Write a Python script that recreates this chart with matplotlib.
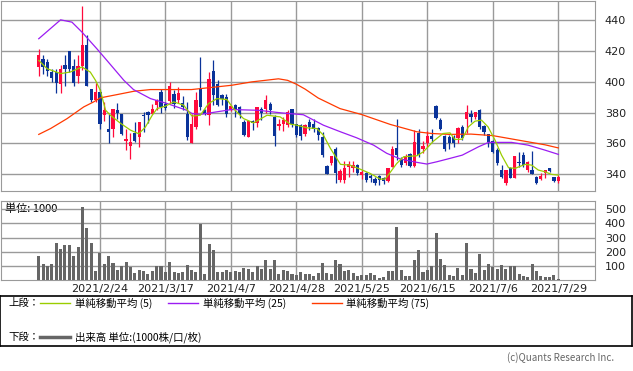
import numpy as np
import matplotlib
matplotlib.use("Agg")
import matplotlib.pyplot as plt
from matplotlib.lines import Line2D
from matplotlib.patches import Rectangle

# --- data (daily candles, 2021/2/2 .. 2021/7/29) ---
opens = [409.7, 415.1, 412.7, 406.5, 406.5, 398.9, 410.8, 419.9, 410.1, 403.6,
         410.1, 423.8, 395.6, 388.0, 393.2, 378.3, 369.4, 369.6, 382.0, 379.0,
         361.6, 358.4, 366.8, 364.2, 378.3, 380.5, 379.4, 384.8, 393.5, 385.9,
         387.4, 392.4, 388.0, 386.3, 379.4, 359.9, 370.7, 395.6, 382.0, 378.3,
         406.9, 398.9, 391.3, 390.2, 382.0, 384.8, 383.7, 374.0, 364.2, 374.4,
         373.3, 382.6, 382.6, 385.9, 377.2, 371.2, 372.9, 371.8, 382.6, 372.3,
         371.8, 365.8, 374.0, 372.9, 370.1, 364.2, 345.2, 346.9, 356.0, 336.0,
         336.1, 344.8, 343.7, 345.8, 339.3, 340.4, 338.9, 336.7, 338.7, 337.2,
         335.7, 344.8, 357.1, 349.7, 346.9, 352.8, 345.4, 366.4, 356.6, 359.9,
         364.9, 384.4, 375.1, 364.9, 364.2, 364.2, 363.2, 370.7, 376.1, 379.0,
         377.2, 381.6, 371.4, 365.8, 361.4, 355.6, 342.6, 333.9, 344.1, 337.6,
         348.0, 352.3, 342.6, 342.6, 338.3, 336.5, 340.4, 343.7, 338.3, 335.5]
highs = [421.6, 417.7, 415.1, 408.6, 408.6, 410.8, 417.3, 419.9, 415.1, 417.3,
         449.1, 430.3, 395.6, 399.3, 395.6, 387.0, 379.4, 382.6, 386.3, 379.0,
         369.0, 366.4, 374.0, 374.0, 380.5, 381.0, 385.9, 388.7, 395.6, 387.0,
         400.0, 395.0, 396.7, 390.6, 387.0, 379.4, 393.4, 416.2, 382.6, 406.4,
         414.0, 401.0, 392.4, 392.4, 385.2, 385.9, 384.1, 375.1, 375.0, 375.5,
         383.7, 383.7, 391.5, 387.0, 378.3, 376.1, 377.2, 381.5, 382.6, 372.9,
         372.3, 372.5, 376.1, 376.1, 370.7, 367.5, 345.8, 351.7, 357.7, 343.0,
         348.4, 348.4, 348.4, 346.3, 342.6, 341.5, 339.8, 338.3, 339.3, 338.3,
         343.7, 358.2, 375.7, 351.3, 352.8, 353.4, 368.6, 369.6, 361.4, 367.9,
         369.6, 384.8, 376.6, 365.3, 365.3, 365.3, 370.7, 371.8, 384.8, 381.6,
         380.5, 382.2, 371.8, 365.8, 362.1, 356.7, 345.8, 342.6, 344.8, 351.7,
         354.5, 354.5, 348.4, 354.9, 338.9, 340.4, 342.6, 344.1, 338.3, 339.3]
lows = [403.6, 404.9, 403.6, 400.0, 392.8, 392.8, 397.1, 406.5, 397.1, 399.3,
        407.5, 397.1, 387.0, 387.0, 369.0, 374.6, 360.3, 363.8, 376.1, 365.3,
        355.6, 349.5, 361.0, 357.7, 367.5, 373.3, 379.4, 382.0, 379.8, 382.0,
        385.9, 383.3, 386.0, 381.5, 362.0, 359.9, 369.6, 381.5, 378.3, 371.8,
        384.8, 384.0, 384.8, 377.2, 381.1, 377.2, 376.8, 364.7, 364.0, 368.6,
        370.7, 375.1, 379.8, 379.4, 358.2, 368.6, 368.1, 370.7, 370.7, 364.2,
        362.1, 364.5, 368.6, 367.5, 362.1, 351.3, 339.8, 345.8, 334.4, 335.0,
        333.9, 338.3, 341.1, 339.3, 336.5, 335.0, 335.0, 332.8, 332.8, 333.5,
        335.0, 344.8, 349.1, 344.8, 345.8, 344.8, 344.8, 351.3, 353.4, 357.7,
        361.0, 376.1, 368.6, 354.9, 356.6, 357.7, 359.9, 362.1, 366.4, 374.0,
        376.1, 369.6, 365.3, 357.7, 353.4, 345.8, 337.6, 332.8, 337.6, 337.2,
        344.8, 344.8, 341.1, 339.8, 333.5, 336.1, 337.6, 341.5, 334.6, 333.9]
closes = [417.3, 409.7, 407.1, 402.8, 399.3, 408.6, 408.2, 408.2, 399.3, 410.1,
          423.8, 397.1, 388.0, 393.2, 372.5, 382.0, 367.5, 382.6, 379.8, 366.0,
          362.5, 361.0, 361.6, 374.0, 377.7, 378.3, 382.6, 388.5, 383.7, 383.3,
          397.1, 385.9, 392.8, 383.7, 364.2, 372.9, 388.0, 383.7, 379.0, 401.7,
          391.3, 385.2, 389.1, 379.4, 384.6, 381.5, 379.4, 365.3, 374.4, 373.3,
          383.7, 379.8, 388.0, 382.0, 364.7, 372.9, 375.1, 380.5, 372.3, 365.3,
          364.9, 371.8, 370.7, 369.6, 365.3, 352.3, 339.8, 351.7, 340.4, 342.2,
          343.7, 346.3, 345.8, 340.4, 341.1, 336.1, 337.2, 334.4, 336.1, 335.7,
          343.7, 356.2, 352.3, 345.8, 351.9, 345.4, 361.0, 352.3, 358.4, 364.7,
          362.5, 376.6, 369.0, 356.2, 359.9, 359.9, 369.7, 363.2, 380.5, 377.2,
          380.5, 370.7, 367.5, 360.6, 354.5, 346.9, 338.3, 342.6, 337.6, 351.7,
          346.9, 345.8, 348.0, 339.8, 334.4, 338.9, 342.4, 341.9, 335.7, 337.8]
volumes = [170, 113, 99, 113, 260, 218, 246, 246, 169, 232,
           514, 366, 260, 63, 190, 113, 169, 120, 70, 99,
           127, 92, 49, 70, 63, 42, 63, 99, 99, 56,
           127, 56, 49, 56, 106, 70, 56, 394, 42, 254,
           211, 56, 56, 70, 56, 63, 56, 85, 77, 56,
           99, 77, 141, 77, 141, 42, 70, 63, 42, 35,
           56, 42, 42, 28, 49, 120, 49, 42, 141, 113,
           63, 70, 49, 28, 35, 35, 49, 35, 14, 21,
           63, 63, 373, 70, 28, 28, 141, 211, 56, 70,
           99, 331, 148, 106, 35, 28, 85, 35, 260, 77,
           49, 183, 70, 113, 92, 77, 106, 77, 99, 99,
           42, 28, 21, 113, 63, 28, 21, 21, 35, 7]

# moving averages (candle index, value)
ma5_x = [0, 1.9, 5, 7.2, 9.9, 11.8, 13.0, 14.1, 15.3, 16.4, 18.7, 21, 22.9, 24.4, 26, 27.1,
         29, 30.9, 33.2, 35.1, 37, 38.9, 40.8, 43.1, 44.6, 46.9, 49.2, 52.3, 55.3, 57.6,
         59.1, 61.4, 63.7, 65.2, 66.8, 69.1, 71.3, 73.6, 75.9, 78.2, 79.3, 80.5, 82, 83.6,
         86.6, 88.1, 90.4, 92.6, 94.2, 95.3, 97, 98.4, 99.9, 101.4, 102.9, 104.5, 106,
         107.6, 109.1, 111.4, 112.9, 114.4, 115.9, 117.4, 119]
ma5_y = [414.0, 408.6, 405.4, 406.4, 409.7, 406.4, 401.0, 394.5, 381.6, 378.3, 373.1, 368.6,
         366.2, 370.5, 378.3, 382.6, 384.2, 387.0, 384.8, 377.7, 378.3, 385.9, 389.1, 388.5,
         382.6, 376.1, 373.3, 378.3, 377.2, 372.5, 371.8, 370.1, 369.6, 365.3, 356.7, 346.3,
         345.8, 343.2, 340.4, 336.7, 336.7, 341.1, 346.9, 351.3, 351.9, 354.5, 361.4, 366.4,
         366.8, 362.5, 362.7, 370.7, 374.4, 375.1, 370.7, 362.1, 352.3, 344.1, 343.7, 346.3,
         345.8, 342.6, 341.5, 339.8, 339.3]
ma25_x = [0, 5, 7.6, 9.9, 13.3, 15.6, 19.5, 21.7, 25.6, 29.4, 33.9, 35.1, 37, 40.8, 44.2,
          50.3, 55.6, 60.6, 65.2, 69.1, 72.8, 76.7, 79.7, 82.8, 86.6, 88.9, 91.2, 94.2,
          97, 100.7, 103, 108.3, 112.1, 115.9, 119]
ma25_y = [428.1, 440.4, 438.9, 432.4, 421.6, 414.0, 401.0, 395.0, 389.1, 385.9, 381.5,
          379.4, 378.8, 380.5, 382.0, 381.5, 379.8, 378.6, 371.8, 367.5, 363.6, 358.8,
          353.5, 349.8, 347.6, 346.5, 348.0, 350.2, 352.3, 357.7, 360.6, 360.6, 358.8,
          355.6, 352.8]
ma75_x = [0, 2.7, 6.5, 10.3, 12.6, 14.1, 17.9, 21.8, 25.6, 35, 44.2, 48.8, 54.9, 57,
          59, 61, 64, 69, 74, 80.5, 86.6, 90, 94, 99, 104, 108, 112, 116, 119]
ma75_y = [365.8, 369.6, 376.1, 383.7, 387.0, 389.6, 391.7, 393.9, 395.0, 395.0, 397.8,
          400.0, 402.0, 401.0, 398.5, 395.3, 389.5, 382.6, 378.7, 372.3, 367.5, 366.4,
          365.8, 366.0, 365.0, 363.0, 361.0, 359.0, 357.0]

grid_idx = [14, 29, 44, 59, 74, 89, 104, 119]
date_labels = ["2021/2/24", "2021/3/17", "2021/4/7", "2021/4/28",
               "2021/5/25", "2021/6/15", "2021/7/6", "2021/7/29"]
price_ticks = [340, 360, 380, 400, 420, 440]
vol_ticks = [100, 200, 300, 400, 500]

UP = "#ff0a3c"
DOWN = "#0a3399"
GRID = "#9a9a9a"
CJK = ["Noto Sans CJK JP", "DejaVu Sans"]

W, H = 633, 371
fig = plt.figure(figsize=(W / 100, H / 100), dpi=100)


def box(l, t, r, b):
    return [l / W, 1 - b / H, (r - l) / W, (b - t) / H]


o = np.array(opens)
h = np.array(highs)
l = np.array(lows)
c = np.array(closes)
idx = np.arange(len(o))
cols = [UP if cc >= oo else DOWN for oo, cc in zip(o, c)]

# price panel
ax = fig.add_axes(box(0.5, 0.5, 595, 191))
ax.vlines(idx, l, h, colors=cols, lw=0.9, zorder=3)
body_lo = np.minimum(o, c)
body_h = np.maximum(np.abs(c - o), 0.4)
ax.bar(idx, body_h, bottom=body_lo, width=0.75, color=cols, lw=0, zorder=4)
ax.plot(ma75_x, ma75_y, color="#ff3a00", lw=0.9, zorder=5)
ax.plot(ma25_x, ma25_y, color="#9b1cf2", lw=0.9, zorder=5)
ax.plot(ma5_x, ma5_y, color="#9acd00", lw=0.9, zorder=5)
ax.set_xlim(-8.76, 127.4)
ax.set_ylim(328.95, 452.99)
ax.set_yticks(price_ticks)
ax.set_xticks(grid_idx)
ax.grid(True, color=GRID, lw=1)
ax.set_axisbelow(True)
ax.yaxis.tick_right()
ax.tick_params(axis="y", length=0, pad=7, labelsize=8, labelcolor="#222222")
ax.tick_params(axis="x", length=0, labelbottom=False)
for s in ax.spines.values():
    s.set_color(GRID)

# volume panel
axv = fig.add_axes(box(0.5, 201, 595, 280))
axv.bar(idx, volumes, width=0.7, color="#666666", lw=0, zorder=3)
axv.set_xlim(-8.76, 127.4)
axv.set_ylim(0, 558)
axv.set_yticks(vol_ticks)
axv.set_xticks(grid_idx)
axv.set_xticklabels(date_labels)
axv.grid(True, color=GRID, lw=1)
axv.yaxis.tick_right()
axv.tick_params(axis="y", length=0, pad=7, labelsize=8, labelcolor="#222222")
axv.tick_params(axis="x", length=0, pad=3, labelsize=8, labelcolor="#222222")
for s in axv.spines.values():
    s.set_color(GRID)
axv.text(5 / 595, 0.90, "単位: 1000", transform=axv.transAxes, fontsize=8,
         family=CJK, va="center", ha="left", zorder=1)

# legend box
axl = fig.add_axes(box(0, 296, 632, 346))
axl.set_xlim(0, 632)
axl.set_ylim(50, 0)
axl.set_xticks([])
axl.set_yticks([])
for s in axl.spines.values():
    s.set_color("black")
    s.set_linewidth(1.2)
fs = 7.5
axl.text(8, 7, "上段：", fontsize=fs, family=CJK, va="center")
axl.add_line(Line2D([40, 70], [7, 7], color="#9acd00", lw=1))
axl.text(75, 7, "単純移動平均 (5)", fontsize=fs, family=CJK, va="center")
axl.add_line(Line2D([168, 198], [7, 7], color="#9b1cf2", lw=1))
axl.text(203, 7, "単純移動平均 (25)", fontsize=fs, family=CJK, va="center")
axl.add_line(Line2D([312, 342], [7, 7], color="#ff3a00", lw=1))
axl.text(346, 7, "単純移動平均 (75)", fontsize=fs, family=CJK, va="center")
axl.text(8, 41, "下段：", fontsize=fs, family=CJK, va="center")
axl.add_line(Line2D([40, 70], [41, 41], color="#666666", lw=2.5))
axl.text(75, 41, "出来高 単位:(1000株/口/枚)", fontsize=fs, family=CJK, va="center")

fig.text(614 / W, 1 - 358 / H, "(c)Quants Research Inc.", fontsize=7, family=CJK,
         color="#666666", ha="right", va="center")

fig.savefig("out.png", dpi=100)
